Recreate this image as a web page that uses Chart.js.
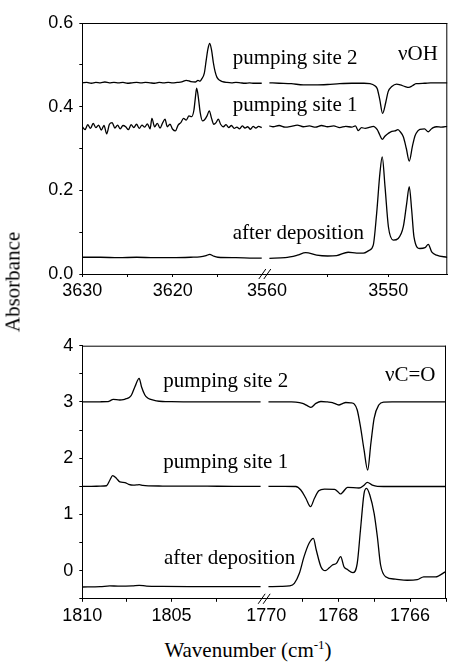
<!DOCTYPE html>
<html><head><meta charset="utf-8">
<script src="https://cdn.jsdelivr.net/npm/chart.js@4/dist/chart.umd.min.js"></script>
<style>
html,body{margin:0;padding:0;background:#fff;}
body{width:449px;height:666px;position:relative;overflow:hidden;font-family:"Liberation Serif","Times New Roman",serif;color:#000;}
canvas{position:absolute;left:0;}
.t{position:absolute;font-size:21px;line-height:21px;white-space:nowrap;}
.sup{font-size:13px;position:relative;top:-8px;}
</style></head><body>
<canvas id="c1" width="449" height="300" style="top:0px"></canvas>
<canvas id="c2" width="449" height="320" style="top:310px"></canvas>
<div class="t" style="left:232.7px;top:46.7px">pumping site 2</div>
<div class="t" style="left:398px;top:43.4px">νOH</div>
<div class="t" style="left:232.7px;top:94.1px">pumping site 1</div>
<div class="t" style="left:232.7px;top:222.4px">after deposition</div>
<div class="t" style="left:163.3px;top:369.7px">pumping site 2</div>
<div class="t" style="left:385px;top:364.1px">νC=O</div>
<div class="t" style="left:163.3px;top:450.7px">pumping site 1</div>
<div class="t" style="left:164px;top:547.4px">after deposition</div>
<div class="t" style="left:248px;top:640.4px;transform:translateX(-50%)">Wavenumber (cm<span class="sup">-1</span>)</div>
<div class="t" style="left:13px;top:281.5px;transform:translate(-50%,-50%) rotate(-90deg)">Absorbance</div>
<script>
// ---- O-H stretch region (top panel): [wavenumber, absorbance]
const ohSite2Left = [[3630,.457],[3629.5,.458],[3629,.456],[3628.5,.458],[3628,.457],[3627.5,.459],[3627,.457],[3626.5,.458],[3626,.457],[3625.5,.458],[3625,.456],[3624.5,.457],[3624,.458],[3623.5,.457],[3623,.458],[3622.5,.457],[3622,.456],[3621.5,.458],[3621,.457],[3620.5,.458],[3620,.457],[3619.5,.458],[3619,.459],[3618.5,.463],[3618,.460],[3617.5,.459],[3617.2,.463],[3617,.461],[3616.8,.466],[3616.5,.480],[3616.3,.510],[3616.1,.538],[3615.9,.551],[3615.7,.535],[3615.5,.505],[3615.3,.483],[3615.1,.470],[3614.8,.463],[3614.5,.460],[3614,.458],[3613.5,.457],[3613,.458],[3612.5,.457],[3612,.456],[3611.5,.457],[3611,.456],[3610.5,.456],[3610.15,.456]];
const ohSite2Right = [[3559.8,.457],[3559,.456],[3558,.455],[3557,.452],[3556,.452],[3555,.453],[3554,.455],[3553,.456],[3552,.456],[3551.5,.455],[3551.1,.450],[3550.9,.443],[3550.7,.418],[3550.46,.384],[3550.2,.410],[3550,.436],[3549.7,.448],[3549.3,.454],[3549,.452],[3548.6,.448],[3548.3,.446],[3548,.450],[3547.7,.455],[3547,.456],[3546.5,.457],[3546,.457],[3545.1,.457]];
const ohSite1Left = [[3630,.352],[3629.7,.345],[3629.4,.357],[3629.1,.348],[3628.8,.360],[3628.5,.350],[3628.2,.356],[3627.9,.344],[3627.6,.355],[3627.3,.335],[3627.0,.358],[3626.7,.362],[3626.4,.349],[3626.1,.356],[3625.8,.347],[3625.5,.355],[3625.2,.352],[3624.9,.345],[3624.6,.357],[3624.3,.350],[3624.0,.358],[3623.7,.348],[3623.4,.356],[3623.1,.351],[3622.8,.359],[3622.5,.347],[3622.3,.372],[3622.0,.352],[3621.7,.360],[3621.4,.349],[3621.1,.362],[3620.85,.370],[3620.6,.352],[3620.3,.358],[3620.0,.346],[3619.7,.342],[3619.4,.356],[3619.1,.362],[3618.8,.372],[3618.5,.368],[3618.2,.378],[3617.9,.376],[3617.65,.392],[3617.5,.420],[3617.35,.444],[3617.15,.420],[3616.95,.385],[3616.7,.366],[3616.5,.368],[3616.2,.378],[3615.95,.390],[3615.7,.372],[3615.45,.358],[3615.2,.362],[3614.95,.370],[3614.7,.358],[3614.4,.352],[3614.1,.357],[3613.8,.350],[3613.5,.355],[3613.2,.348],[3612.9,.351],[3612.6,.347],[3612.3,.354],[3612.0,.349],[3611.7,.352],[3611.4,.346],[3611.1,.353],[3610.8,.349],[3610.5,.353],[3610.15,.350]];
const ohSite1Right = [[3559.8,.354],[3559.5,.352],[3559,.355],[3558.5,.351],[3558,.353],[3557.5,.356],[3557,.352],[3556.5,.354],[3556,.351],[3555.5,.355],[3555,.352],[3554.5,.354],[3554,.350],[3553.5,.353],[3553,.351],[3552.7,.354],[3552.47,.343],[3552.2,.350],[3551.9,.348],[3551.5,.351],[3551.23,.353],[3550.9,.345],[3550.7,.333],[3550.49,.322],[3550.25,.330],[3550.0,.336],[3549.7,.341],[3549.44,.342],[3549.2,.345],[3549.03,.341],[3548.75,.328],[3548.5,.300],[3548.26,.270],[3548.0,.305],[3547.79,.330],[3547.55,.342],[3547.38,.346],[3547.0,.347],[3546.69,.340],[3546.5,.345],[3546.28,.350],[3546.0,.352],[3545.6,.351],[3545.12,.353]];
const ohDepLeft = [[3630,.040],[3628,.040],[3626,.039],[3624,.040],[3622,.039],[3620,.039],[3618,.040],[3617,.041],[3616.3,.044],[3615.9,.047],[3615.5,.043],[3615,.040],[3613,.039],[3611,.038],[3610.15,.038]];
const ohDepRight = [[3559.8,.0375],[3558.5,.039],[3557.5,.045],[3556.8,.051],[3555.9,.045],[3555,.043],[3554.25,.044],[3553.3,.052],[3552.6,.050],[3552.05,.050],[3551.6,.056],[3551.23,.069],[3550.95,.145],[3550.68,.241],[3550.49,.280],[3550.26,.209],[3549.98,.113],[3549.57,.081],[3549.17,.085],[3548.75,.113],[3548.47,.169],[3548.26,.209],[3548.06,.153],[3547.87,.089],[3547.38,.061],[3546.96,.063],[3546.69,.071],[3546.41,.053],[3546.0,.045],[3545.12,.040]];

// ---- C=O stretch region (bottom panel): [wavenumber, absorbance]
const coSite2Left = [[1810,3.0],[1809.5,3.0],[1809,3.003],[1808.6,3.005],[1808.45,3.02],[1808.27,3.047],[1807.9,3.035],[1807.7,3.04],[1807.52,3.06],[1807.35,3.085],[1807.24,3.124],[1807.05,3.27],[1806.81,3.42],[1806.68,3.27],[1806.49,3.124],[1806.35,3.075],[1806.21,3.05],[1805.84,3.02],[1805.5,3.008],[1805,3.004],[1804,3.002],[1803,3.0],[1802,3.0],[1801,3.0],[1800,3.0]];
const coSite2Right = [[1769.94,3.0],[1769.6,3.0],[1769.3,3.0],[1769.18,2.998],[1768.99,2.975],[1768.85,2.93],[1768.76,2.904],[1768.62,2.975],[1768.48,3.008],[1768.3,3.0],[1768.16,2.99],[1767.98,2.946],[1767.88,2.97],[1767.79,2.99],[1767.65,2.985],[1767.55,2.96],[1767.47,2.857],[1767.38,2.56],[1767.28,2.146],[1767.18,1.79],[1767.09,2.265],[1767.0,2.709],[1766.87,2.946],[1766.73,2.997],[1766.5,3.0],[1766,3.0],[1765.5,3.0],[1765,3.0]];
const coSite1Left = [[1810,1.50],[1809.5,1.50],[1809,1.502],[1808.64,1.51],[1808.45,1.612],[1808.3,1.69],[1808.08,1.64],[1807.89,1.577],[1807.61,1.565],[1807.4,1.535],[1807.15,1.52],[1806.95,1.524],[1806.81,1.53],[1806.6,1.515],[1806.3,1.508],[1805.5,1.505],[1804.5,1.503],[1803,1.502],[1801.5,1.5],[1800,1.5]];
const coSite1Right = [[1769.94,1.5],[1769.5,1.5],[1769.18,1.497],[1769.04,1.435],[1768.9,1.287],[1768.77,1.138],[1768.66,1.287],[1768.54,1.42],[1768.38,1.45],[1768.1,1.444],[1768.0,1.40],[1767.94,1.364],[1767.88,1.39],[1767.74,1.48],[1767.42,1.47],[1767.28,1.52],[1767.19,1.571],[1767.05,1.52],[1766.91,1.50],[1766.5,1.497],[1766,1.497],[1765.5,1.497],[1765,1.497]];
const coDepLeft = [[1810,-0.29],[1809,-0.285],[1808.45,-0.27],[1808,-0.275],[1807.2,-0.27],[1806.81,-0.26],[1806.4,-0.275],[1805.5,-0.28],[1804,-0.283],[1802,-0.284],[1800,-0.284]];
const coDepRight = [[1769.94,-0.284],[1769.6,-0.28],[1769.36,-0.27],[1769.22,-0.225],[1769.08,-0.047],[1768.95,0.249],[1768.81,0.487],[1768.69,0.576],[1768.61,0.368],[1768.48,0.071],[1768.36,0.0],[1768.25,0.05],[1768.16,0.101],[1768.05,0.13],[1767.93,0.249],[1767.84,0.071],[1767.75,0.024],[1767.59,-0.036],[1767.47,0.13],[1767.38,0.724],[1767.28,1.376],[1767.21,1.465],[1767.12,1.346],[1767.0,1.02],[1766.91,0.604],[1766.82,0.101],[1766.68,-0.107],[1766.41,-0.15],[1766.08,-0.17],[1765.8,-0.16],[1765.62,-0.11],[1765.29,-0.11],[1765.02,-0.02]];

// ---- axis ranges and ticks
const ohRangeLeft = [3609.81, 3630];
const ohRangeRight = [3545.12, 3560.18];
const coRangeLeft = [1799.8, 1810];
const coRangeRight = [1765.0, 1770.06];
const ohTicksLeft = [3630, 3625, 3620, 3615];
const ohTicksRight = [3560, 3555, 3550];
const ohTickLabels = [3630, 3620, 3560, 3550];
const coTicksLeft = [1810, 1807.5, 1805, 1802.5];
const coTicksRight = [1770, 1769, 1768, 1767, 1766, 1765];
const coTickLabels = [1810, 1805, 1770, 1768, 1766];
const ohYTicks = [0, 0.1, 0.2, 0.3, 0.4, 0.5, 0.6];
const ohYLabels = [0, 0.2, 0.4, 0.6];
const coYTicks = [-0.5, 0, 0.5, 1, 1.5, 2, 2.5, 3, 3.5, 4];
const coYLabels = [0, 1, 2, 3, 4];
const breakTicks = [3560, 1770];

const SANS = '"Liberation Sans", Arial, sans-serif';

function ds(pairs, axis) {
  return { data: pairs.map(p => ({x: p[0], y: p[1]})), xAxisID: axis, yAxisID: 'y',
    borderColor: '#000', borderWidth: 1.3, pointRadius: 0, fill: false,
    cubicInterpolationMode: 'monotone' };
}
function xScale(range, ticks, labels, h) {
  return {
    type: 'linear', position: 'bottom', stack: 'wn', stackWeight: 1,
    min: range[0], max: range[1], reverse: true, bounds: 'data',
    afterBuildTicks: s => { s.ticks = ticks.map(v => ({value: v})); },
    afterFit: s => { s.height = h; },
    grid: { drawOnChartArea: false, drawTicks: true, tickLength: 3, color: '#000', tickWidth: 1,
      tickColor: c => (c.tick && breakTicks.includes(c.tick.value)) ? 'rgba(0,0,0,0)' : '#000' },
    border: { display: true, color: '#000', width: 1 },
    ticks: { autoSkip: false, maxRotation: 0, minRotation: 0, padding: 3, color: '#000',
      font: { family: SANS, size: 18 },
      callback: v => labels.includes(v) ? String(v) : '' }
  };
}
function yScale(min, max, ticks, labels, fmt) {
  return {
    type: 'linear', position: 'left', min, max, bounds: 'data',
    afterBuildTicks: s => { s.ticks = ticks.map(v => ({value: v})); },
    afterFit: s => { s.width = 82.3; },
    grid: { drawOnChartArea: false, drawTicks: true, tickLength: 3, color: '#000' },
    border: { display: true, color: '#000', width: 1 },
    ticks: { padding: 6, color: '#000', font: { family: SANS, size: 18 },
      callback: v => labels.includes(v) ? fmt(v) : '' }
  };
}
const frame = {
  id: 'frame',
  afterDraw(chart) {
    const {ctx, chartArea: a} = chart;
    ctx.save();
    ctx.strokeStyle = '#000'; ctx.lineWidth = 1;
    ctx.beginPath();
    ctx.moveTo(a.left, a.top + 0.5); ctx.lineTo(a.right, a.top + 0.5);
    ctx.moveTo(a.right - 0.5, a.top); ctx.lineTo(a.right - 0.5, a.bottom);
    ctx.stroke();
    const bx = chart.scales.xL.right, by = a.bottom;
    ctx.beginPath();
    ctx.moveTo(bx - 6, by + 5); ctx.lineTo(bx + 1, by - 5);
    ctx.moveTo(bx - 1, by + 5); ctx.lineTo(bx + 6, by - 5);
    ctx.stroke();
    ctx.restore();
  }
};
function panel(id, sets, xs, y, pad) {
  return new Chart(document.getElementById(id), {
    type: 'line',
    data: { datasets: sets },
    options: {
      responsive: false, animation: false,
      layout: { padding: pad },
      plugins: { legend: { display: false }, tooltip: { enabled: false } },
      scales: { xL: xs[0], xR: xs[1], y: y }
    },
    plugins: [frame]
  });
}

panel('c1',
  [ds(ohSite2Left,'xL'), ds(ohSite2Right,'xR'), ds(ohSite1Left,'xL'), ds(ohSite1Right,'xR'), ds(ohDepLeft,'xL'), ds(ohDepRight,'xR')],
  [xScale(ohRangeLeft, ohTicksLeft, ohTickLabels, 26), xScale(ohRangeRight, ohTicksRight, ohTickLabels, 26)],
  yScale(0, 0.6, ohYTicks, ohYLabels, v => v.toFixed(1)),
  { left: 0, right: 1.7, top: 23, bottom: 0 });

panel('c2',
  [ds(coSite2Left,'xL'), ds(coSite2Right,'xR'), ds(coSite1Left,'xL'), ds(coSite1Right,'xR'), ds(coDepLeft,'xL'), ds(coDepRight,'xR')],
  [xScale(coRangeLeft, coTicksLeft, coTickLabels, 31.2), xScale(coRangeRight, coTicksRight, coTickLabels, 31.2)],
  yScale(-0.5, 4, coYTicks, coYLabels, v => String(v)),
  { left: 0, right: 1.7, top: 35.7, bottom: 0 });
</script>
</body></html>
